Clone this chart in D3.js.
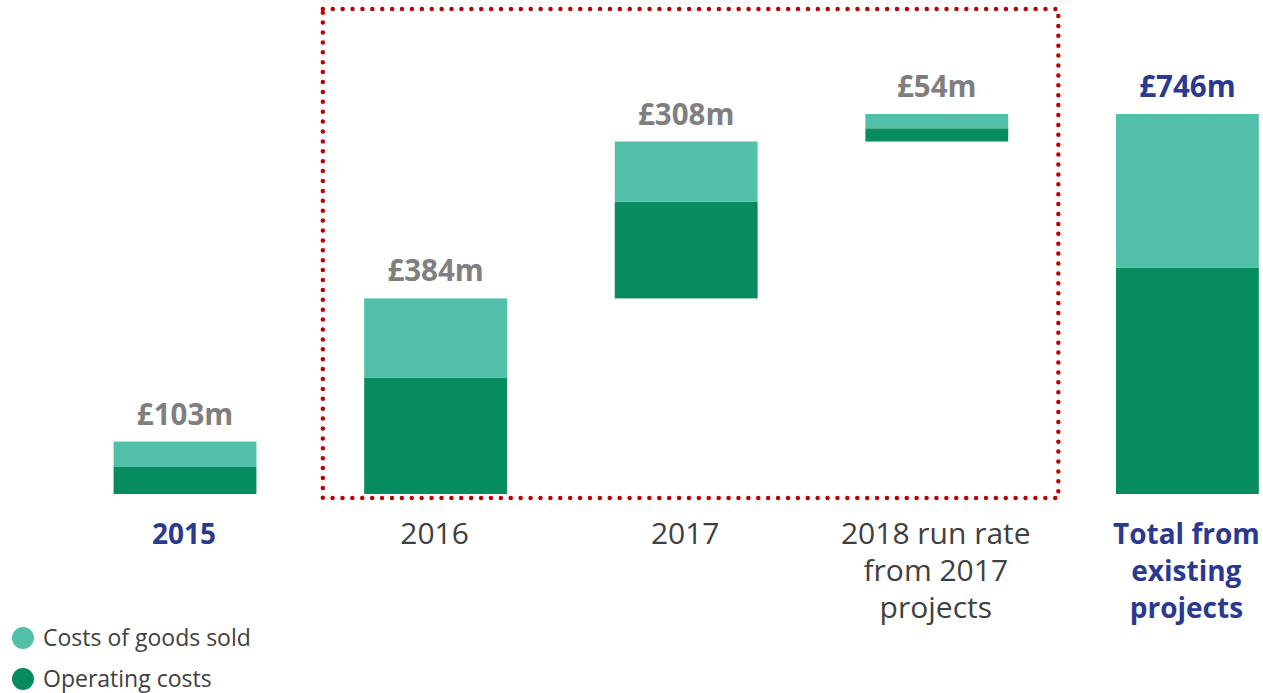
<!DOCTYPE html>
<html>
<head>
<meta charset="utf-8">
<script src="https://cdn.jsdelivr.net/npm/d3@7"></script>
<style>
  body { margin: 0; background: #fff; }
  svg { display: block; font-family: "Open Sans", sans-serif; }
</style>
</head>
<body>
<div id="chart"></div>
<script>
// categories, one entry per bar (lines of the label)
const categories = [
  ["2015"],
  ["2016"],
  ["2017"],
  ["2018 run rate", "from 2017", "projects"],
  ["Total from", "existing", "projects"]
];
// £m
const operatingCosts = [53, 228, 190, 26, 444];
const goodsSold = [50, 156, 118, 28, 302];
// which bars float on top of the previous ones (the boxed steps)
const floating = [false, false, true, true, false];
const highlighted = [true, false, false, false, true];

const width = 1263, height = 693;
const baseline = 494;

const keys = categories.map(c => c.join(" "));
const totals = operatingCosts.map((v, i) => v + goodsSold[i]);

// running base for the floating steps
let run = 0;
const bases = totals.map((t, i) => {
  if (!floating[i]) { run = t; return 0; }
  const b = run; run += t; return b;
});

const svg = d3.select('#chart').append('svg')
  .attr('width', width)
  .attr('height', height);

const x = d3.scaleBand()
  .domain(keys)
  .range([59.7, 1312.7])
  .paddingInner(0.43)
  .paddingOuter(0.215);

const y = d3.scaleLinear()
  .domain([0, d3.max(totals)])
  .range([baseline, 114]);

const colLight = '#52C0A8', colDark = '#078C60';
const navy = '#2B3990';

const bars = svg.append('g').selectAll('g')
  .data(keys)
  .join('g');

// operating costs (bottom)
bars.append('rect')
  .attr('x', d => x(d))
  .attr('width', x.bandwidth())
  .attr('y', (d, i) => y(bases[i] + operatingCosts[i]))
  .attr('height', (d, i) => y(bases[i]) - y(bases[i] + operatingCosts[i]))
  .attr('fill', colDark);

// costs of goods sold (top)
bars.append('rect')
  .attr('x', d => x(d))
  .attr('width', x.bandwidth())
  .attr('y', (d, i) => y(bases[i] + totals[i]))
  .attr('height', (d, i) => y(bases[i] + operatingCosts[i]) - y(bases[i] + totals[i]))
  .attr('fill', colLight);

// value labels
bars.append('text')
  .attr('x', d => x(d) + x.bandwidth() / 2)
  .attr('y', (d, i) => y(bases[i] + totals[i]) - 17)
  .attr('text-anchor', 'middle')
  .attr('font-size', 29.5)
  .attr('font-weight', 700)
  .attr('fill', (d, i) => i === 4 ? navy : '#7F7F7F')
  .text((d, i) => '£' + totals[i] + 'm');

// category labels
const cat = bars.append('text')
  .attr('text-anchor', 'middle')
  .attr('font-size', (d, i) => highlighted[i] ? 28 : 30)
  .attr('font-weight', (d, i) => highlighted[i] ? 700 : 400)
  .attr('fill', (d, i) => highlighted[i] ? navy : '#404040');

cat.selectAll('tspan')
  .data((d, i) => categories[i])
  .join('tspan')
  .attr('x', function() { const k = d3.select(this.parentNode).datum(); return x(k) + x.bandwidth() / 2 - 1; })
  .attr('y', (d, j) => 544 + j * 37)
  .text(d => d);

// dotted box round the yearly steps
const boxL = x(keys[1]) - x.step() * 0.165;
const boxR = x(keys[3]) + x.bandwidth() + x.step() * 0.2;
svg.append('rect')
  .attr('x', boxL)
  .attr('y', 9)
  .attr('width', boxR - boxL)
  .attr('height', baseline + 4 - 9)
  .attr('fill', 'none')
  .attr('stroke', '#C00000')
  .attr('stroke-width', 4.5)
  .attr('stroke-linecap', 'round')
  .attr('stroke-dasharray', '0 9.9');

// legend
const legendItems = [
  { name: 'Costs of goods sold', color: colLight },
  { name: 'Operating costs', color: colDark }
];
const legend = svg.append('g').selectAll('g')
  .data(legendItems)
  .join('g')
  .attr('transform', (d, i) => `translate(0,${638 + i * 41})`);

legend.append('circle')
  .attr('cx', 23)
  .attr('cy', 0)
  .attr('r', 11)
  .attr('fill', d => d.color);

legend.append('text')
  .attr('x', 43)
  .attr('y', 8)
  .attr('font-size', 23)
  .attr('fill', '#404040')
  .text(d => d.name);
</script>
</body>
</html>
